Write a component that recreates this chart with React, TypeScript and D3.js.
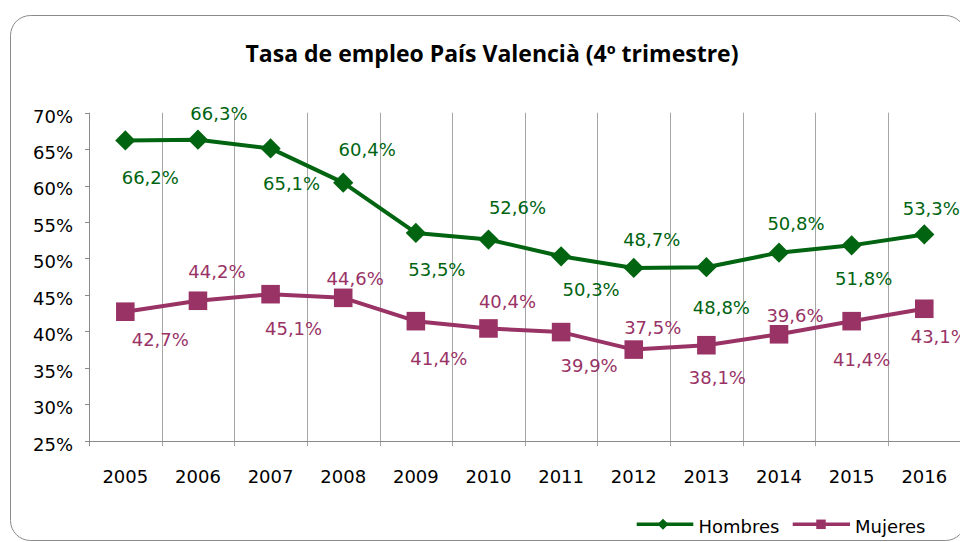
import React from 'react';
import * as d3 from 'd3';

const years = ['2005', '2006', '2007', '2008', '2009', '2010', '2011', '2012', '2013', '2014', '2015', '2016'];
const hombres = [66.2, 66.3, 65.1, 60.4, 53.5, 52.6, 50.3, 48.7, 48.8, 50.8, 51.8, 53.3];
const mujeres = [42.7, 44.2, 45.1, 44.6, 41.4, 40.4, 39.9, 37.5, 38.1, 39.6, 41.4, 43.1];
const yTicks = [25, 30, 35, 40, 45, 50, 55, 60, 65, 70];

// label offsets (relative to marker)
const hombresLabelDx = [25, 21, 21, 24, 21, 29, 30, 18, 15, 17, 12, 7];
const hombresLabelDy = [37, -26, 35, -33, 37, -32, 33, -28, 40, -29, 33, -26];
const mujeresLabelDx = [35, 19, 23, 12, 23, 19, 28, 19, 11, 16, 10, 15];
const mujeresLabelDy = [28, -29, 34, -19, 37, -27, 33, -22, 32, -19, 38, 28];

const GREEN = '#006410';
const PLUM = '#993366';
const FONT = '"DejaVu Sans", sans-serif';

const fmt = (v: number) => v.toFixed(1).replace('.', ',') + '%';

export default function App() {
  const W = 960;
  const H = 542;
  const left = 89;
  const right = 960.6;
  const top = 112.7;
  const bottom = 440.7;

  const x = d3.scaleBand<string>().domain(years).range([left, right]).padding(0);
  const y = d3.scaleLinear().domain([25, 70]).range([bottom, top]);
  const cx = (i: number) => (x(years[i]) as number) + x.bandwidth() / 2;

  const line = d3
    .line<number>()
    .x((_, i) => cx(i))
    .y((v) => y(v));

  const diamond = d3.symbol().type(d3.symbolSquare).size(205)() as string;
  const square = d3.symbol().type(d3.symbolSquare).size(345)() as string;
  const legDiamond = d3.symbol().type(d3.symbolSquare).size(62)() as string;
  const legSquare = d3.symbol().type(d3.symbolSquare).size(90)() as string;

  const boundaries = years.map((yr) => x(yr) as number).concat([right]);

  return (
    <svg
      width={W}
      height={H}
      style={{ position: 'absolute', left: 0, top: 0, display: 'block', background: '#fff' }}
    >
      <rect x={10.5} y={15.5} width={955} height={525} rx={20} ry={20} fill="#fff" stroke="#8a8a8a" strokeWidth={1} />

      <text
        x={492}
        y={61.5}
        textAnchor="middle"
        fontFamily='"Open Sans", Lato, sans-serif'
        fontWeight="bold"
        fontSize={23}
        fill="#000"
      >
        Tasa de empleo País Valencià (4º trimestre)
      </text>

      {/* vertical gridlines + category ticks */}
      {boundaries.map((bx, i) =>
        i === 0 ? null : (
          <line key={'g' + i} x1={Math.round(bx) + 0.5} x2={Math.round(bx) + 0.5} y1={top} y2={bottom + 5.5} stroke="#a6a6a6" strokeWidth={1} />
        )
      )}

      {/* y axis */}
      <line x1={left + 0.5} x2={left + 0.5} y1={top} y2={bottom + 5.5} stroke="#8a8a8a" strokeWidth={1} />
      {yTicks.map((t) => (
        <g key={'yt' + t}>
          <line x1={left - 4} x2={left} y1={Math.round(y(t)) + 0.5} y2={Math.round(y(t)) + 0.5} stroke="#8a8a8a" strokeWidth={1} />
          <text x={73} y={y(t) + 9.8} textAnchor="end" fontFamily={FONT} fontSize={18} fill="#000">
            {t}%
          </text>
        </g>
      ))}
      {/* x axis */}
      <line x1={left - 4} x2={right} y1={Math.round(bottom) + 0.5} y2={Math.round(bottom) + 0.5} stroke="#8a8a8a" strokeWidth={1} />
      {years.map((yr, i) => (
        <text key={'xl' + yr} x={cx(i)} y={483.3} textAnchor="middle" fontFamily={FONT} fontSize={18} fill="#000">
          {yr}
        </text>
      ))}

      {/* Hombres */}
      <path d={line(hombres) as string} fill="none" stroke={GREEN} strokeWidth={4} strokeLinejoin="round" />
      {hombres.map((v, i) => (
        <path key={'hd' + i} d={diamond} transform={`translate(${cx(i)},${y(v)}) rotate(45)`} fill={GREEN} />
      ))}
      {/* Mujeres */}
      <path d={line(mujeres) as string} fill="none" stroke={PLUM} strokeWidth={4} strokeLinejoin="round" />
      {mujeres.map((v, i) => (
        <path key={'ms' + i} d={square} transform={`translate(${cx(i)},${y(v)})`} fill={PLUM} />
      ))}

      {hombres.map((v, i) => (
        <text
          key={'hl' + i}
          x={cx(i) + hombresLabelDx[i]}
          y={y(v) + hombresLabelDy[i] + 6.5}
          textAnchor="middle"
          fontFamily={FONT}
          fontSize={18}
          fill={GREEN}
        >
          {fmt(v)}
        </text>
      ))}
      {mujeres.map((v, i) => (
        <text
          key={'ml' + i}
          x={cx(i) + mujeresLabelDx[i]}
          y={y(v) + mujeresLabelDy[i] + 6.5}
          textAnchor="middle"
          fontFamily={FONT}
          fontSize={18}
          fill={PLUM}
        >
          {fmt(v)}
        </text>
      ))}

      {/* legend */}
      <g>
        <line x1={636.7} x2={693.3} y1={524.3} y2={524.3} stroke={GREEN} strokeWidth={3.5} />
        <path d={legDiamond} transform="translate(663,524.3) rotate(45)" fill={GREEN} />
        <text x={698.5} y={533} fontFamily={FONT} fontSize={18} fill="#000">
          Hombres
        </text>
        <line x1={792.7} x2={850} y1={524.3} y2={524.3} stroke={PLUM} strokeWidth={3.5} />
        <path d={legSquare} transform="translate(821,524.3)" fill={PLUM} />
        <text x={855} y={533} fontFamily={FONT} fontSize={18} fill="#000">
          Mujeres
        </text>
      </g>
    </svg>
  );
}
